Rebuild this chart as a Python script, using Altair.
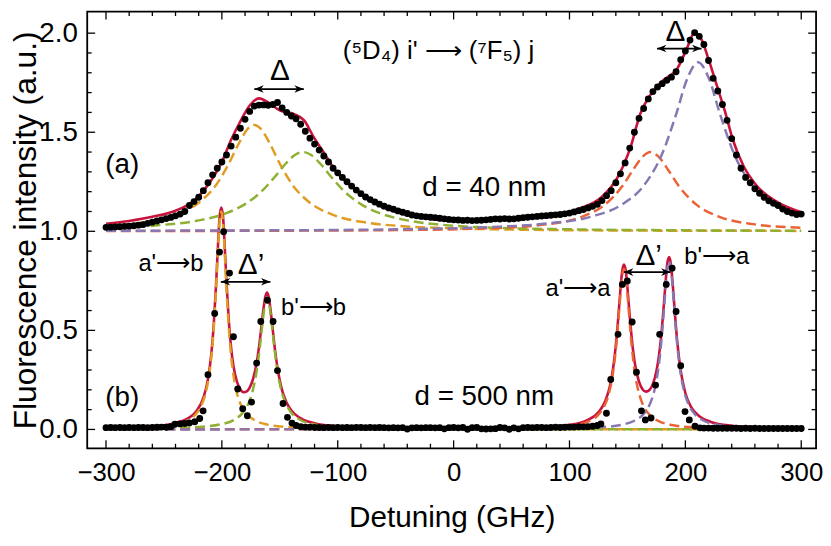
import altair as alt
import pandas as pd

# ------------------------------------------------------------------ data
# fitted total curves (x in GHz, y in a.u.)
RED_A = [(-300, 1.038), (-280, 1.052), (-260, 1.073), (-240, 1.104), (-225, 1.150), (-212, 1.234),
         (-200, 1.350), (-192, 1.462), (-184, 1.555), (-176, 1.635), (-168, 1.671), (-160, 1.651),
         (-150, 1.610), (-138, 1.592), (-129, 1.560), (-121, 1.478), (-112, 1.397), (-101, 1.299),
         (-87, 1.222), (-70, 1.150), (-44, 1.088), (-15, 1.058), (10, 1.050), (50, 1.060), (79, 1.079),
         (107, 1.112), (127, 1.169), (141, 1.267), (153, 1.430), (161, 1.592), (170, 1.690),
         (181, 1.763), (193, 1.821), (201, 1.918), (208, 2.003), (214, 1.967), (220, 1.869),
         (227, 1.739), (234, 1.609), (241, 1.462), (250, 1.332), (261, 1.234), (278, 1.152), (300, 1.096)]

RED_B = [(-300, 0.007), (-260, 0.016), (-240, 0.033), (-230, 0.054), (-222, 0.092), (-216, 0.159),
         (-212, 0.254), (-209, 0.388), (-207, 0.531), (-205, 0.732), (-203.5, 0.912), (-202, 1.070),
         (-200.5, 1.120), (-199, 1.074), (-197.5, 0.919), (-196, 0.744), (-194, 0.548), (-192, 0.411),
         (-190, 0.321), (-187, 0.241), (-184, 0.202), (-181, 0.188), (-178.5, 0.192), (-176, 0.211),
         (-173, 0.256), (-170, 0.335), (-168, 0.414), (-166, 0.512), (-164, 0.613), (-162.5, 0.670),
         (-161, 0.691), (-159.5, 0.666), (-158, 0.605), (-156, 0.499), (-154, 0.395), (-152, 0.311),
         (-149, 0.220), (-146, 0.161), (-142, 0.112), (-137, 0.077), (-130, 0.050), (-120, 0.031),
         (-100, 0.016), (-60, 0.008), (0, 0.006), (60, 0.009), (100, 0.024), (115, 0.046), (125, 0.087),
         (131, 0.145), (135, 0.222), (138, 0.324), (140, 0.425), (142, 0.558), (144, 0.708),
         (145.5, 0.800), (147, 0.832), (148.5, 0.804), (150, 0.716), (152, 0.572), (154, 0.445),
         (157, 0.314), (160, 0.241), (163, 0.203), (166, 0.191), (169, 0.199), (172, 0.230),
         (175, 0.294), (177, 0.363), (179, 0.463), (181, 0.597), (183, 0.749), (184.5, 0.841),
         (186, 0.870), (187.5, 0.836), (189, 0.740), (191, 0.583), (193, 0.443), (196, 0.296),
         (200, 0.184), (205, 0.113), (212, 0.067), (222, 0.038), (240, 0.019), (270, 0.009), (300, 0.005)]

# individual line components, panel (a) (offset by 1.0)
ORANGE_A = [(-300, 1.026), (-270, 1.043), (-240, 1.083), (-220, 1.144), (-205, 1.234), (-195, 1.330),
            (-185, 1.447), (-178, 1.515), (-172, 1.537), (-166, 1.515), (-159, 1.447), (-149, 1.330),
            (-139, 1.234), (-124, 1.144), (-104, 1.083), (-74, 1.043), (-44, 1.026), (0, 1.015),
            (60, 1.008), (150, 1.004), (300, 1.002)]
GREEN_A = [(-300, 1.017), (-250, 1.033), (-220, 1.055), (-195, 1.094), (-180, 1.137), (-166, 1.200),
           (-155, 1.270), (-145, 1.341), (-137, 1.385), (-130, 1.400), (-123, 1.385), (-115, 1.341),
           (-105, 1.270), (-94, 1.200), (-80, 1.137), (-65, 1.094), (-40, 1.055), (-10, 1.033),
           (40, 1.017), (100, 1.010), (200, 1.005), (300, 1.003)]
VERMIL_A = [(-300, 1.001), (-150, 1.003), (-50, 1.006), (30, 1.015), (80, 1.035), (110, 1.072),
            (130, 1.132), (145, 1.223), (155, 1.311), (163, 1.376), (170, 1.400), (177, 1.376),
            (185, 1.311), (195, 1.223), (210, 1.132), (230, 1.072), (260, 1.035), (300, 1.018)]
PURPLE_A = [(-300, 1.003), (-150, 1.005), (-50, 1.010), (30, 1.021), (80, 1.039), (120, 1.076),
            (145, 1.134), (165, 1.237), (180, 1.391), (192, 1.590), (202, 1.776), (211, 1.853),
            (220, 1.776), (230, 1.590), (242, 1.391), (257, 1.237), (277, 1.134), (300, 1.079)]

# individual line components, panel (b)
ORANGE_B = [(-300, 0.004), (-260, 0.011), (-240, 0.025), (-230.5, 0.043), (-222.5, 0.077),
            (-217.5, 0.123), (-213.5, 0.195), (-210.5, 0.294), (-208.5, 0.400), (-206.5, 0.555),
            (-205, 0.710), (-203.5, 0.888), (-202, 1.045), (-200.5, 1.100), (-199, 1.045),
            (-197.5, 0.888), (-196, 0.710), (-194.5, 0.555), (-192.5, 0.400), (-190.5, 0.294),
            (-187.5, 0.195), (-183.5, 0.123), (-178.5, 0.077), (-170.5, 0.043), (-160.5, 0.024),
            (-140.5, 0.011), (-100.5, 0.004), (0, 0.001), (300, 0.0003)]
GREEN_B = [(-300, 0.002), (-261, 0.004), (-221, 0.012), (-201, 0.026), (-189, 0.050), (-181, 0.092),
           (-176, 0.147), (-172, 0.230), (-169, 0.333), (-167, 0.426), (-165, 0.532), (-163, 0.626),
           (-161, 0.665), (-159, 0.626), (-157, 0.532), (-155, 0.426), (-153, 0.333), (-150, 0.230),
           (-146, 0.147), (-141, 0.092), (-133, 0.050), (-121, 0.026), (-101, 0.012), (-61, 0.004),
           (0, 0.0016), (300, 0.0003)]
VERMIL_B = [(-300, 0.0004), (-100, 0.0007), (0, 0.0018), (47, 0.004), (87, 0.011), (107, 0.024),
            (117, 0.042), (125, 0.075), (130, 0.117), (134, 0.182), (137, 0.266), (139, 0.351),
            (141, 0.467), (143, 0.611), (145, 0.749), (147, 0.810), (149, 0.749), (151, 0.611),
            (153, 0.467), (155, 0.351), (157, 0.266), (160, 0.182), (164, 0.117), (169, 0.075),
            (177, 0.042), (187, 0.024), (207, 0.011), (247, 0.004), (300, 0.0017)]
PURPLE_B = [(-300, 0.0002), (-100, 0.0005), (0, 0.0012), (86, 0.004), (126, 0.011), (146, 0.025),
            (156, 0.044), (164, 0.078), (169, 0.123), (173, 0.191), (176, 0.280), (178, 0.369),
            (180, 0.490), (182, 0.641), (184, 0.786), (186, 0.850), (188, 0.786), (190, 0.641),
            (192, 0.490), (194, 0.369), (196, 0.280), (199, 0.191), (203, 0.123), (208, 0.078),
            (216, 0.044), (226, 0.025), (246, 0.011), (286, 0.004), (300, 0.0032)]

# measured points
DOTS_A = [(-300, 1.020), (-296, 1.021), (-292, 1.022), (-288, 1.023), (-284, 1.025), (-280, 1.026),
          (-276, 1.028), (-272, 1.031), (-268, 1.034), (-264, 1.040), (-260, 1.046), (-256, 1.052),
          (-252, 1.058), (-248, 1.064), (-244, 1.070), (-240, 1.078), (-236, 1.087), (-232, 1.100),
          (-228, 1.130), (-224, 1.150), (-220, 1.172), (-216, 1.205), (-212, 1.245), (-208, 1.285),
          (-204, 1.318), (-200, 1.350), (-196, 1.385), (-192, 1.430), (-188, 1.475), (-184, 1.520),
          (-180, 1.565), (-176, 1.605), (-172, 1.632), (-168, 1.637), (-164, 1.638), (-160, 1.636),
          (-156, 1.640), (-152, 1.650), (-148, 1.622), (-144, 1.600), (-140, 1.582), (-136, 1.568),
          (-132, 1.540), (-128, 1.505), (-124, 1.470), (-120, 1.440), (-116, 1.410), (-112, 1.380),
          (-108, 1.350), (-104, 1.318), (-100, 1.295), (-96, 1.272), (-92, 1.250), (-88, 1.228),
          (-84, 1.208), (-80, 1.190), (-76, 1.173), (-72, 1.160), (-68, 1.148), (-64, 1.137),
          (-60, 1.127), (-56, 1.118), (-52, 1.111), (-48, 1.103), (-44, 1.096), (-40, 1.090),
          (-36, 1.082), (-32, 1.078), (-28, 1.075), (-24, 1.073), (-20, 1.071), (-16, 1.069),
          (-12, 1.066), (-8, 1.063), (-4, 1.060), (0, 1.058), (4, 1.057), (8, 1.055), (12, 1.056),
          (16, 1.054), (20, 1.055), (24, 1.056), (28, 1.058), (32, 1.060), (36, 1.063), (40, 1.062),
          (44, 1.064), (48, 1.062), (52, 1.063), (56, 1.066), (60, 1.069), (64, 1.071), (68, 1.073),
          (72, 1.075), (76, 1.077), (80, 1.079), (84, 1.081), (88, 1.083), (92, 1.085), (96, 1.088),
          (100, 1.092), (104, 1.098), (108, 1.104), (112, 1.110), (116, 1.118), (120, 1.126),
          (124, 1.136), (128, 1.155), (132, 1.180), (136, 1.205), (140, 1.245), (144, 1.290),
          (148, 1.345), (152, 1.420), (156, 1.500), (160, 1.570), (164, 1.620), (168, 1.668),
          (172, 1.705), (176, 1.728), (180, 1.745), (184, 1.762), (188, 1.778), (192, 1.805),
          (196, 1.866), (200, 1.910), (204, 1.965), (208, 2.003), (212, 1.984), (216, 1.943),
          (220, 1.862), (224, 1.772), (228, 1.708), (232, 1.640), (236, 1.560), (240, 1.468),
          (244, 1.385), (248, 1.318), (252, 1.272), (256, 1.245), (260, 1.215), (264, 1.192),
          (268, 1.172), (272, 1.154), (276, 1.141), (280, 1.130), (284, 1.112), (288, 1.100),
          (292, 1.092), (296, 1.085), (300, 1.087)]

DOTS_B = [(-300, 0.009), (-296, 0.010), (-292, 0.009), (-288, 0.010), (-284, 0.009), (-280, 0.010),
          (-276, 0.009), (-272, 0.010), (-268, 0.010), (-264, 0.009), (-260, 0.010), (-256, 0.011),
          (-252, 0.012), (-248, 0.011), (-244, 0.014), (-240.5, 0.026), (-236, 0.028), (-232, 0.030),
          (-228, 0.033), (-223.4, 0.039), (-219.1, 0.055), (-216.2, 0.094), (-212, 0.276),
          (-206.2, 0.585), (-202, 0.895), (-198.5, 0.998), (-193.4, 0.789), (-190, 0.468),
          (-186.3, 0.204), (-182, 0.105), (-178, 0.069), (-174.4, 0.138), (-170, 0.335),
          (-166.4, 0.545), (-160.7, 0.652), (-155.8, 0.545), (-152, 0.297), (-147.2, 0.131),
          (-143.4, 0.061), (-139.5, 0.032), (-136, 0.020), (-132, 0.014), (-128, 0.012), (-124, 0.011),
          (-120, 0.010), (-116, 0.010), (-112, 0.009), (-108, 0.010), (-104, 0.009), (-100, 0.010),
          (-96, 0.009), (-92, 0.010), (-88, 0.009), (-84, 0.010), (-80, 0.010), (-76, 0.009),
          (-72, 0.010), (-68, 0.009), (-64, 0.010), (-60, 0.009), (-56, 0.008), (-52, 0.009),
          (-48, 0.008), (-44, 0.009), (-40, 0.002), (-36, 0.008), (-32, 0.009), (-28, 0.008),
          (-24, 0.009), (-20, 0.009), (-16, 0.008), (-12, 0.009), (-8, 0.003), (-4, 0.009), (0, 0.010),
          (4, 0.008), (8, 0.010), (12, 0.001), (16, 0.009), (20, 0.010), (24, 0.003), (28, 0.002),
          (32, 0.003), (36, 0.004), (40, 0.010), (44, 0.008), (48, 0.001), (52, 0.008), (56, 0.003),
          (60, 0.009), (64, 0.010), (68, 0.009), (72, 0.010), (76, 0.010), (80, 0.009), (84, 0.010),
          (88, 0.011), (92, 0.010), (96, 0.011), (100, 0.012), (104, 0.012), (108, 0.013),
          (112, 0.013), (116, 0.014), (120, 0.016), (124, 0.020), (127.1, 0.028), (131.9, 0.082),
          (135.6, 0.252), (141.9, 0.480), (145.6, 0.732), (149.9, 0.749), (154.1, 0.542),
          (157.8, 0.289), (162.1, 0.094), (165.5, 0.048), (170.4, 0.058), (174.3, 0.224),
          (177.8, 0.480), (183.5, 0.732), (188.6, 0.814), (192, 0.595), (196, 0.322), (199.7, 0.090),
          (203.4, 0.048), (208.3, 0.016), (212.6, 0.008), (216, 0.007), (220, 0.007), (224, 0.006),
          (228, 0.006), (232, 0.006), (236, 0.006), (240, 0.006), (244, 0.006), (248, 0.005),
          (252, 0.006), (256, 0.005), (260, 0.006), (264, 0.005), (268, 0.005), (272, 0.005),
          (276, 0.005), (280, 0.005), (284, 0.005), (288, 0.005), (292, 0.005), (296, 0.005),
          (300, 0.005)]

# axis ticks
X_MAJOR = [-300, -200, -100, 0, 100, 200, 300]
X_MINOR = [-280, -260, -240, -220, -180, -160, -140, -120, -80, -60, -40, -20,
           20, 40, 60, 80, 120, 140, 160, 180, 220, 240, 260, 280]
Y_MAJOR = [0.0, 0.5, 1.0, 1.5, 2.0]
Y_MINOR = [0.1, 0.2, 0.3, 0.4, 0.6, 0.7, 0.8, 0.9, 1.1, 1.2, 1.3, 1.4, 1.6, 1.7, 1.8, 1.9]

# annotations
LABELS = ["(⁵D₄) i' ⟶ (⁷F₅) j", "Δ", "Δ", "(a)", "d = 40 nm", "(b)", "d = 500 nm",
          "a'⟶b", "b'⟶b", "a'⟶a", "b'⟶a", "Δ’", "Δ’"]
LABEL_X = [-13, -150, 191.5, -286, 26.5, -286, 26.5, -244, -121, 107.3, 227, -174.8, 168.4]
LABEL_Y = [1.909, 1.808, 2.006, 1.332, 1.219, 0.159, 0.164, 0.836, 0.611, 0.706, 0.868, 0.828, 0.877]
LABEL_SIZE = [26, 30, 30, 28, 28, 28, 28, 24, 24, 24, 24, 30, 30]

ARROW_X1 = [-172, 175.5, -200.9, 147]
ARROW_X2 = [-129.3, 213.9, -158.1, 187.2]
ARROW_Y = [1.718, 1.922, 0.745, 0.794]

# ------------------------------------------------------------------ styling
FONT = "Liberation Sans"
W, H = 736, 441
xs = alt.Scale(domain=[-316.2, 312.8], nice=False, zero=False)
ys = alt.Scale(domain=[-0.095, 2.109], nice=False, zero=False)

COMP_NAMES = ["oA", "gA", "vA", "pA", "oB", "gB", "vB", "pB"]
COMP_COLORS = ["#E19C24", "#8FB032", "#EB6235", "#8778B3", "#E19C24", "#8FB032", "#EB6235", "#8778B3"]


def frame(pairs, name):
    return pd.DataFrame({"x": [p[0] for p in pairs], "y": [p[1] for p in pairs], "s": name})


red_df = pd.concat([frame(RED_A, "rA"), frame(RED_B, "rB")])
comp_df = pd.concat([frame(d, n) for d, n in zip(
    [ORANGE_A, GREEN_A, VERMIL_A, PURPLE_A, ORANGE_B, GREEN_B, VERMIL_B, PURPLE_B], COMP_NAMES)])
dots_df = pd.concat([frame(DOTS_A, "A"), frame(DOTS_B, "B")])

x_axis = alt.Axis(values=X_MAJOR, format="d", ticks=False, domain=False, grid=False,
                  labelFont=FONT, labelFontSize=26, labelColor="black", labelPadding=12,
                  labelFlush=False, title="Detuning (GHz)", titleFont=FONT, titleFontSize=30,
                  titleFontWeight="normal", titleColor="black", titleX=W / 2, titleY=70,
                  titleBaseline="middle")
y_axis = alt.Axis(values=Y_MAJOR, format=".1f", ticks=False, domain=False, grid=False,
                  labelFont=FONT, labelFontSize=28, labelColor="black", labelPadding=10,
                  labelFlush=False, title="Fluorescence intensity (a.u.)", titleFont=FONT,
                  titleFontSize=32, titleFontWeight="normal", titleColor="black",
                  titleX=-62, titleY=H / 2, titleAngle=270, titleBaseline="middle")

X_ENC = alt.X("x:Q", scale=xs)
Y_ENC = alt.Y("y:Q", scale=ys)

red = alt.Chart(red_df).mark_line(color="#C8143C", strokeWidth=2.6, interpolate="monotone").encode(
    x=alt.X("x:Q", scale=xs, axis=x_axis),
    y=alt.Y("y:Q", scale=ys, axis=y_axis),
    detail="s:N",
)

comps = alt.Chart(comp_df).mark_line(strokeWidth=2.5, strokeDash=[10, 5], interpolate="monotone").encode(
    x=X_ENC, y=Y_ENC,
    color=alt.Color("s:N", scale=alt.Scale(domain=COMP_NAMES, range=COMP_COLORS), legend=None),
    order=alt.Order("x:Q"),
)

dots = alt.Chart(dots_df).mark_circle(size=48, color="black", opacity=1).encode(x=X_ENC, y=Y_ENC)


def xticks(vals, length):
    d = pd.DataFrame({"x": vals})
    base = alt.Chart(d).mark_rule(color="black", strokeWidth=1.3)
    bottom = base.encode(x=X_ENC, y=alt.value(H), y2=alt.value(H - length))
    top = base.encode(x=X_ENC, y=alt.value(0), y2=alt.value(length))
    return [bottom, top]


def yticks(vals, length):
    d = pd.DataFrame({"y": vals})
    base = alt.Chart(d).mark_rule(color="black", strokeWidth=1.3)
    left = base.encode(y=Y_ENC, x=alt.value(0), x2=alt.value(length))
    right = base.encode(y=Y_ENC, x=alt.value(W), x2=alt.value(W - length))
    return [left, right]


ticks = xticks(X_MAJOR, 8) + xticks(X_MINOR, 4.5) + yticks(Y_MAJOR, 8) + yticks(Y_MINOR, 4.5)

arrow_df = pd.DataFrame({"x": ARROW_X1, "x2": ARROW_X2, "y": ARROW_Y})
arrow_line = alt.Chart(arrow_df).mark_rule(color="black", strokeWidth=1.8).encode(
    x=X_ENC, x2="x2:Q", y=Y_ENC)
head_left = alt.Chart(arrow_df).mark_point(
    shape="M0,0L2,-0.8L1.4,0L2,0.8Z", filled=True, size=90, color="black", opacity=1).encode(
    x=X_ENC, y=Y_ENC)
head_df = pd.DataFrame({"x": ARROW_X2, "y": ARROW_Y})
head_right = alt.Chart(head_df).mark_point(
    shape="M0,0L-2,-0.8L-1.4,0L-2,0.8Z", filled=True, size=90, color="black", opacity=1).encode(
    x=X_ENC, y=Y_ENC)

label_df = pd.DataFrame({"t": LABELS, "x": LABEL_X, "y": LABEL_Y, "fs": LABEL_SIZE})
labels = alt.Chart(label_df).mark_text(font=FONT, color="black", align="center", baseline="middle").encode(
    x=X_ENC, y=Y_ENC,
    text="t:N",
    size=alt.Size("fs:Q", scale=None, legend=None),
)

chart = alt.layer(red, comps, dots, *ticks, arrow_line, head_left, head_right, labels).properties(
    width=W, height=H,
    padding={"left": 80, "top": 1, "right": 7, "bottom": 86},
    autosize=alt.AutoSizeParams(type="none"),
    background="white",
).configure_view(stroke="black", strokeWidth=1.8)

chart.save("out.html", embed_options={"renderer": "svg", "actions": False})
